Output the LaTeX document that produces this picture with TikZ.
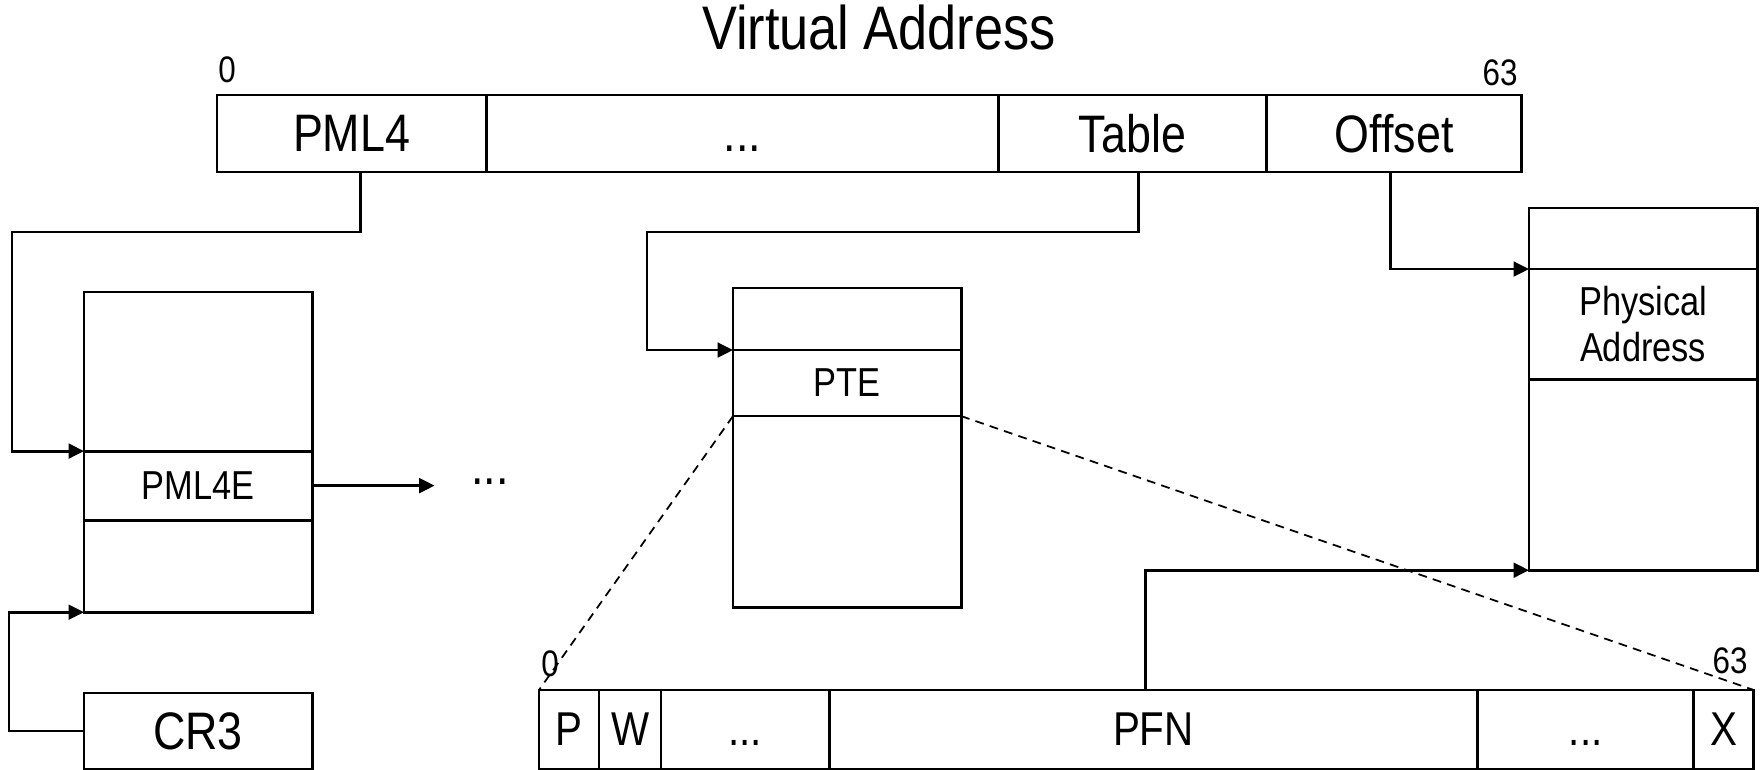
\documentclass[tikz,border=0pt]{standalone}
\usepackage{fontspec}
\setmainfont{Liberation Sans}[FakeStretch=0.85]
\usetikzlibrary{arrows.meta, positioning}

\begin{document}
\begin{tikzpicture}[
            x=0.01cm, y=-0.01cm,
            field/.style={rectangle, draw, line width=0.8pt, inner sep=0pt, outer sep=0pt, minimum height=0.77cm, font=\fontsize{15}{18}\selectfont},
            entry/.style={rectangle, draw, line width=0.8pt, inner sep=0pt, outer sep=0pt, minimum width=2.28cm, align=center, font=\fontsize{11.5}{13}\selectfont},
            bit/.style={rectangle, draw, line width=0.8pt, inner sep=0pt, outer sep=0pt, minimum height=0.79cm, font=\fontsize{13.5}{16}\selectfont},
            bitno/.style={inner sep=0pt, anchor=base, font=\fontsize{10.5}{12}\selectfont},
            arrow/.style={-{Triangle[length=4.4pt,width=4.2pt]}, line width=0.8pt},
            zoomline/.style={line width=0.5pt, dash pattern=on 2.5pt off 1.8pt}
        ]
            \useasboundingbox (0,0) rectangle (1760,769);

% Virtual address
            \node[anchor=base, font=\fontsize{17.5}{20}\selectfont] (title) at (879,49) {Virtual Address};
            \node[bitno] (va0) at (227,82) {0};
            \node[bitno] (va63) at (1500,85) {63};
            \node[field, minimum width=2.69cm, anchor=north west] (pml4) at (217,95) {PML4};
            \node[field, minimum width=5.12cm, right=0pt of pml4] (vadots) {\vphantom{P}...};
            \node[field, minimum width=2.68cm, right=0pt of vadots] (table) {Table};
            \node[field, minimum width=2.55cm, right=0pt of table] (offset) {Offset};

% PML4 table and CR3
            \node[entry, minimum height=1.59cm, anchor=north west] (ptop) at (84,292) {};
            \node[entry, minimum height=0.69cm, below=0pt of ptop] (pml4e) {PML4E};
            \node[entry, minimum height=0.92cm, below=0pt of pml4e] (pbot) {};
            \node[field, minimum width=2.28cm, minimum height=0.76cm, anchor=north west] (cr3) at (84,693) {CR3};
            \node[anchor=base, inner xsep=0.36cm, inner ysep=0pt, font=\fontsize{15}{18}\selectfont] (more) at (490,484) {...};

% Page table
            \node[entry, minimum height=0.62cm, anchor=north west] (ttop) at (733,288) {};
            \node[entry, minimum height=0.66cm, below=0pt of ttop] (pte) {PTE};
            \node[entry, minimum height=1.91cm, below=0pt of pte] (tbot) {};

% Physical memory
            \node[entry, minimum height=0.61cm, anchor=north west] (mtop) at (1529,208) {};
            \node[entry, minimum height=1.10cm, below=0pt of mtop] (phys) {Physical\\Address};
            \node[entry, minimum height=1.91cm, below=0pt of phys] (mbot) {};

% PTE bits
            \node[bit, minimum width=0.60cm, anchor=north west] (bp) at (539,690) {P};
            \node[bit, minimum width=0.62cm, right=0pt of bp] (bw) {W};
            \node[bit, minimum width=1.68cm, right=0pt of bw] (bdots1) {\vphantom{P}...};
            \node[bit, minimum width=6.48cm, right=0pt of bdots1] (pfn) {PFN};
            \node[bit, minimum width=2.16cm, right=0pt of pfn] (bdots2) {\vphantom{P}...};
            \node[bit, minimum width=0.60cm, right=0pt of bdots2] (bx) {X};
            \node[bitno] (pte0) at (550,676) {0};
            \node[bitno] (pte63) at (1730,673) {63};

% Walk connections
            \draw[arrow] ([xshift=0.09cm]pml4.south) -- ++(0,60) -| ([xshift=-0.72cm]pml4e.north west) -- (pml4e.north west);
            \draw[arrow] (cr3.west) -- ++(-75,0) |- (pbot.south west);
            \draw[arrow] (pml4e.east) -- (pml4e.east -| more.west);
            \draw[arrow] ([xshift=0.06cm]table.south) -- ++(0,60) -| ([xshift=-0.86cm]ttop.south west) -- (ttop.south west);
            \draw[arrow] ([xshift=-0.04cm]offset.south) |- (mtop.south west);
            \draw[arrow] ([xshift=-0.08cm]pfn.north) |- (mbot.south west);

% Zoom lines
            \draw[zoomline] (pte.south west) -- (bp.north west);
            \draw[zoomline] (pte.south east) -- (bx.north east);

        \end{tikzpicture}
\end{document}
